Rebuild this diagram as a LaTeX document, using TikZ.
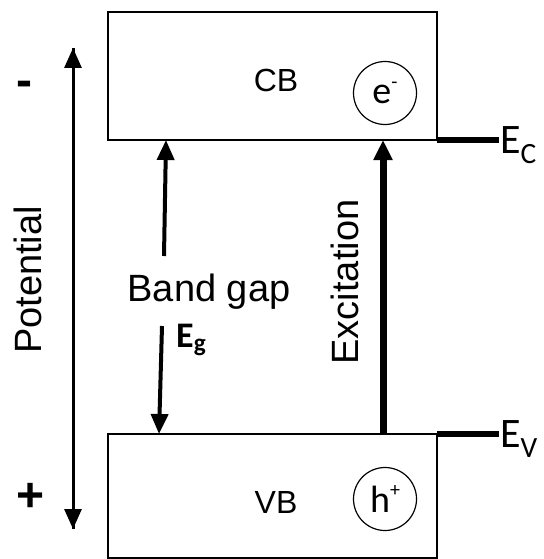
\documentclass[tikz,border=0pt]{standalone}
\usepackage{fontspec}
\setmainfont{Liberation Sans}
\newfontfamily\carlitofont{Carlito}
\usetikzlibrary{arrows.meta}
\begin{document}
\begin{tikzpicture}[x=1pt,y=-1pt,
  band/.style={draw,line width=1.6pt,minimum width=329pt,anchor=north west,inner sep=0pt,outer sep=0pt},
  lbl/.style={font=\fontsize{38}{40}\selectfont,inner sep=0pt},
  small/.style={font=\fontsize{32}{33}\selectfont,inner sep=0pt},
  carrier/.style={draw,circle,line width=1.2pt,minimum size=63pt,inner sep=0pt,font=\carlitofont\fontsize{38}{38}\selectfont},
  elevel/.style={font=\carlitofont\fontsize{42}{42}\selectfont,inner sep=0pt,anchor=west},
  sign/.style={font=\bfseries\fontsize{48}{48}\selectfont,inner sep=0pt},
  tip/.style={-{Triangle[width=17pt,length=20pt]}}
]
\useasboundingbox (0,0) rectangle (543,559);
\node[band,minimum height=128pt] (cb) at (108,12) {};
\node[band,minimum height=124pt] (vb) at (108,434) {};
\node[small] (cbt) at (276,80) {CB};
\node[small] (vbt) at (276,502) {VB};
\node[carrier] (e) at (385,93) {e\raisebox{0.4em}{\fontsize{20}{20}\selectfont -}};
\node[carrier] (h) at (385,499) {h\raisebox{0.4em}{\fontsize{20}{20}\selectfont +}};
% potential axis
\coordinate (pt) at (73,48);
\coordinate (pb) at (73,529);
\draw[line width=3pt,tip] (pb) -- (pt);
\draw[line width=3pt,tip] (pt) -- (pb);
\node[sign] (minus) at (24,89) {-};
\node[sign] (plus) at (31,497) {+};
\node[lbl,rotate=90] (pot) at (28,280) {Potential};
% band gap
\node[lbl] (bg) at (209,292) {Band gap};
\node[font=\carlitofont\bfseries\fontsize{36}{36}\selectfont,inner sep=0pt,anchor=west] (eg) at (176,340) {E\textsubscript{g}};
\coordinate (bgu) at (164,256);
\coordinate (bgd) at (162,326);
\draw[line width=4pt,tip] (bgu) -- (cb.south west -| 166,140);
\draw[line width=4pt,tip] (bgd) -- (vb.north west -| 159,434);
% excitation
\draw[line width=7pt,-{Triangle[width=18pt,length=20pt]}] (vb.north west -| 383,434) -- (cb.south west -| 383,140);
\node[lbl,rotate=90] (ex) at (345,282) {Excitation};
% levels
\draw[line width=6pt] (cb.south east) -- ++(62,0) coordinate (ec);
\draw[line width=6pt] (vb.north east) -- ++(62,0) coordinate (ev);
\node[elevel] (ect) at (500,145) {E\textsubscript{C}};
\node[elevel] (evt) at (500,439) {E\textsubscript{V}};
\end{tikzpicture}
\end{document}
